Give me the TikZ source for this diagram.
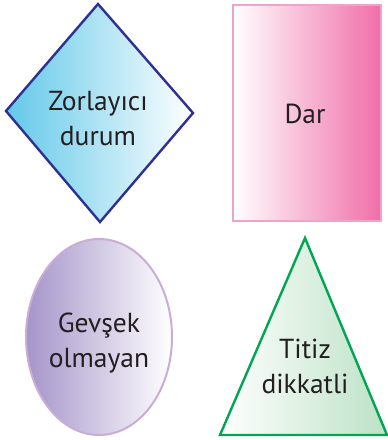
\documentclass[tikz,border=0pt]{standalone}
\usepackage{fontspec}
\setmainfont{PT Sans}
\definecolor{diaB}{HTML}{2E3192}
\definecolor{diaC}{HTML}{62C8E9}
\definecolor{recP}{HTML}{EEA3CA}
\definecolor{recPd}{HTML}{F06EA8}
\definecolor{ellP}{HTML}{A594C9}
\definecolor{ellPl}{HTML}{C9ADD6}
\definecolor{triG}{HTML}{00A651}
\definecolor{triGl}{HTML}{BCE2C6}
\definecolor{txtK}{HTML}{231F20}

\begin{document}
\begin{tikzpicture}[x=1pt, y=-1pt, font=\fontsize{27.5}{34.5}\selectfont,
    lbl/.style={text=txtK, align=center, inner sep=0pt, anchor=base}]
  \path[use as bounding box] (0,0) rectangle (388,440);

  % diamond, cyan to white
  \draw[draw=diaB, line width=2.4pt, left color=diaC, right color=white]
    (6,111) -- (98,4) -- (193,113) -- (100,222) -- cycle;
  \node[lbl] (zor) at (98,145) {Zorlayıcı\\durum};

  % rectangle, white to pink
  \draw[draw=recP, line width=2.4pt, left color=white, right color=recPd]
    (233,5) rectangle (381,221);
  \node[lbl] (dar) at (305,123) {Dar};

  % ellipse, purple to white
  \draw[draw=ellPl, line width=2pt, left color=ellP, right color=white]
    (99,337) ellipse [x radius=73, y radius=98];
  \node[lbl] (gev) at (99,367) {Gevşek\\olmayan};

  % triangle, white to green
  \draw[draw=triG, line width=2.4pt, left color=white, right color=triGl]
    (305,238) -- (387,435) -- (220,435) -- cycle;
  \node[lbl] (tit) at (305,393) {Titiz\\dikkatli};
\end{tikzpicture}
\end{document}
